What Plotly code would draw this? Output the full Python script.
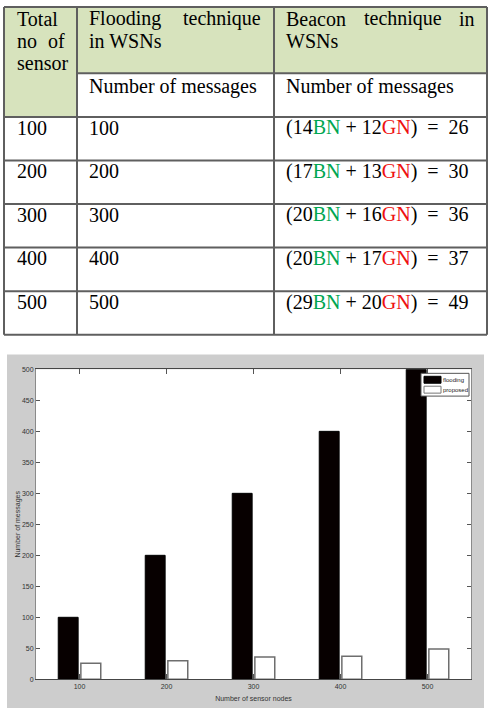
import plotly.graph_objects as go

# ---------------- data ----------------
sensors = [100, 200, 300, 400, 500]
flooding_msgs = [100, 200, 300, 400, 500]
beacon_bn = [14, 17, 20, 20, 29]
beacon_gn = [12, 13, 16, 17, 20]
beacon_total = [26, 30, 36, 37, 49]
y_ticks = [0, 50, 100, 150, 200, 250, 300, 350, 400, 450, 500]
series_names = ["flooding", "proposed"]

W, H = 488, 712


def px(x):
    return x / W


def py(y):
    return 1 - y / H


fig = go.Figure()

flood_color = "#070000"
prop_fill = "#ffffff"
prop_line = "#6e6e6e"

# ---------------- chart ----------------
fig.add_bar(x=sensors, y=flooding_msgs, name=series_names[0], showlegend=False,
            marker=dict(color=flood_color, line=dict(color="#000000", width=1)))
fig.add_bar(x=sensors, y=beacon_total, name=series_names[1], showlegend=False,
            marker=dict(color=prop_fill, line=dict(color=prop_line, width=1.5)))

shapes = []
# gray figure background of the chart + white axes area
shapes.append(dict(type="rect", xref="paper", yref="paper", layer="below",
                   x0=px(7), x1=px(484), y0=py(354), y1=py(711),
                   fillcolor="#cdcdcd", line=dict(width=0)))
shapes.append(dict(type="rect", xref="paper", yref="paper", layer="below",
                   x0=px(36), x1=px(471), y0=py(369), y1=py(682),
                   fillcolor="#ffffff", line=dict(width=0)))

# ---------------- table ----------------
green = "#d7e3bd"
border = "#5f5f5f"
shapes.append(dict(type="rect", xref="paper", yref="paper", layer="below",
                   x0=px(4), x1=px(77), y0=py(3), y1=py(114),
                   fillcolor=green, line=dict(width=0)))
shapes.append(dict(type="rect", xref="paper", yref="paper", layer="below",
                   x0=px(77), x1=px(487), y0=py(3), y1=py(70),
                   fillcolor=green, line=dict(width=0)))


def hline(x0, x1, y):
    shapes.append(dict(type="line", xref="paper", yref="paper",
                       x0=px(x0), x1=px(x1), y0=py(y), y1=py(y),
                       line=dict(color=border, width=2)))


def vline(x, y0, y1):
    shapes.append(dict(type="line", xref="paper", yref="paper",
                       x0=px(x), x1=px(x), y0=py(y0), y1=py(y1),
                       line=dict(color=border, width=2)))


row_top = 114
row_h = 44
table_bottom = row_top + row_h * len(sensors)
hline(4, 487, 3)
hline(77, 487, 70)
for i in range(len(sensors) + 1):
    hline(4, 487, row_top + row_h * i)
for x in (4, 77, 274, 487):
    vline(x, 3, table_bottom)

annotations = []
serif = "Liberation Serif, Times New Roman, serif"


def txt(x, baseline, text, anchor="left", size=20):
    annotations.append(dict(x=px(x), y=py(baseline - 7), xref="paper", yref="paper",
                            text=text, showarrow=False, xanchor=anchor, yanchor="middle",
                            font=dict(family=serif, size=size, color="#000000")))


# header texts
txt(15, 22, "Total")
txt(15, 44, "no")
txt(67, 44, "of", "right")
txt(15, 67, "sensor")
txt(87, 22, "Flooding")
txt(263, 22, "technique", "right")
txt(87, 44, "in WSNs")
txt(284, 22, "Beacon")
txt(403, 22, "technique", "center")
txt(477, 22, "in", "right")
txt(284, 44, "WSNs")
txt(87, 90, "Number of messages")
txt(284, 90, "Number of messages")

nb = "\u00a0"
for i, s in enumerate(sensors):
    base = row_top + row_h * i + 18
    txt(15, base, str(s))
    txt(87, base, str(flooding_msgs[i]))
    formula = (f"({beacon_bn[i]}<span style='color:#00a651'>BN</span> + "
               f"{beacon_gn[i]}<span style='color:#ee1111'>GN</span>){nb}{nb}={nb}{nb}{beacon_total[i]}")
    txt(284, base, formula)

small = "Liberation Sans Narrow, Arial Narrow, Liberation Sans, Arial, sans-serif"

# ---------------- compact legend (MATLAB style) ----------------
shapes.append(dict(type="rect", xref="paper", yref="paper",
                   x0=px(421), x1=px(469), y0=py(373), y1=py(396),
                   fillcolor="#ffffff", line=dict(color="#555555", width=1)))
legend_styles = [(flood_color, "#000000"), (prop_fill, "#777777")]
for k, name in enumerate(series_names):
    top = 376 + 10 * k
    fc, lc = legend_styles[k]
    shapes.append(dict(type="rect", xref="paper", yref="paper",
                       x0=px(424), x1=px(441), y0=py(top), y1=py(top + 7),
                       fillcolor=fc, line=dict(color=lc, width=1)))
    annotations.append(dict(x=px(442), y=py(top + 3.5), xref="paper", yref="paper",
                            text=name, showarrow=False, xanchor="left", yanchor="middle",
                            borderpad=0,
                            font=dict(family=small, size=6, color="#222222")))

fig.update_layout(
    width=W, height=H,
    margin=dict(l=0, r=0, t=0, b=0),
    paper_bgcolor="#ffffff",
    plot_bgcolor="rgba(0,0,0,0)",
    barmode="group",
    bargap=0.48,
    bargroupgap=0.12,
    shapes=shapes,
    annotations=annotations,
    showlegend=False,
    xaxis=dict(domain=[px(36), px(471)], range=[50, 550],
               tickvals=sensors, ticktext=[str(s) for s in sensors],
               ticks="inside", ticklen=5, tickcolor="#555555", mirror="ticks",
               showline=True, linecolor="#454545", linewidth=1,
               showgrid=False, zeroline=False,
               tickfont=dict(family=small, size=7, color="#333333"),
               title=dict(text="Number of sensor nodes", standoff=7,
                          font=dict(family=small, size=7, color="#333333"))),
    yaxis=dict(domain=[py(682), py(369)], range=[0, 500],
               tickvals=y_ticks,
               ticks="inside", ticklen=4, tickcolor="#555555", mirror="ticks",
               showline=True, linecolor="#8a8a8a", linewidth=1,
               showgrid=False, zeroline=False,
               tickfont=dict(family=small, size=7, color="#333333"),
               title=dict(text="Number of messages", standoff=0,
                          font=dict(family=small, size=7, color="#333333"))),
)

fig.write_html("out.html")
